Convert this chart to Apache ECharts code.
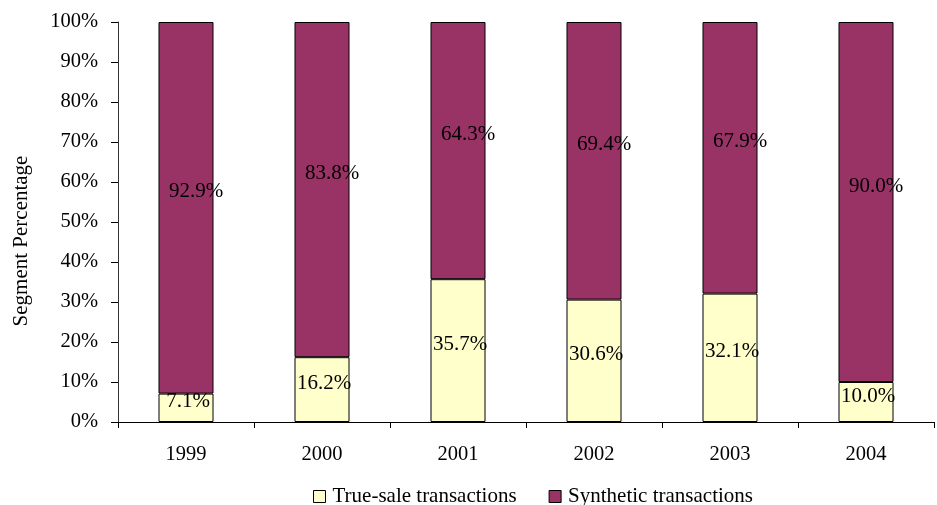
<!DOCTYPE html>
<html>
<head>
<meta charset="utf-8">
<script src="https://cdn.jsdelivr.net/npm/echarts@6/dist/echarts.min.js"></script>
<style>
  html, body { margin: 0; padding: 0; background: #fff; }
  #chart { width: 937px; height: 505px; }
</style>
</head>
<body>
<div id="chart"></div>
<script>
const years = ['1999', '2000', '2001', '2002', '2003', '2004']
const trueSale = [7.1, 16.2, 35.7, 30.6, 32.1, 10.0]
const synthetic = [92.9, 83.8, 64.3, 69.4, 67.9, 90.0]

const font = 'Liberation Serif'
const chart = echarts.init(document.getElementById('chart'))

const option = {
  animation: false,
  textStyle: { fontFamily: font },
  grid: { left: 118, right: 3, top: 22, bottom: 83, containLabel: false, outerBoundsMode: 'none' },
  legend: {
    data: ['True-sale transactions', 'Synthetic transactions'],
    top: 486,
    left: 313,
    padding: 0,
    itemWidth: 12,
    itemHeight: 12,
    itemGap: 32,
    icon: 'rect',
    itemStyle: { borderColor: '#000', borderWidth: 1 },
    textStyle: { fontFamily: font, fontSize: 21, color: '#000', padding: [0, 0, 0, 2] }
  },
  xAxis: {
    type: 'category',
    data: years,
    axisLine: { lineStyle: { color: '#000', width: 1 } },
    axisTick: { show: true, length: 6, inside: false, lineStyle: { color: '#000' } },
    axisLabel: { fontFamily: font, fontSize: 20.5, color: '#000', margin: 22 }
  },
  yAxis: {
    type: 'value',
    min: 0,
    max: 100,
    interval: 10,
    name: 'Segment Percentage',
    nameLocation: 'middle',
    nameGap: 86,
    nameTextStyle: { fontFamily: font, fontSize: 21, color: '#000', padding: [0, 38, 0, 0] },
    axisLine: { show: true, lineStyle: { color: '#333' } },
    axisTick: { show: true, length: 7, lineStyle: { color: '#000' } },
    splitLine: { show: false },
    axisLabel: { fontFamily: font, fontSize: 20.5, color: '#000', margin: 20, formatter: '{value}%' }
  },
  series: [
    {
      name: 'True-sale transactions',
      type: 'bar',
      stack: 'total',
      data: trueSale,
      barWidth: 55,
      itemStyle: { color: '#FFFFCC', borderColor: '#000', borderWidth: 1 },
      label: {
        show: true,
        position: 'inside',
        offset: [2, -6],
        fontFamily: font,
        fontSize: 21,
        color: '#000',
        formatter: p => p.value.toFixed(1) + '%'
      }
    },
    {
      name: 'Synthetic transactions',
      type: 'bar',
      stack: 'total',
      data: synthetic,
      barWidth: 55,
      itemStyle: { color: '#993366', borderColor: '#000', borderWidth: 1 },
      label: {
        show: true,
        position: 'inside',
        offset: [10, -16],
        fontFamily: font,
        fontSize: 21,
        color: '#000',
        formatter: p => p.value.toFixed(1) + '%'
      }
    }
  ]
}

chart.setOption(option)
</script>
</body>
</html>
